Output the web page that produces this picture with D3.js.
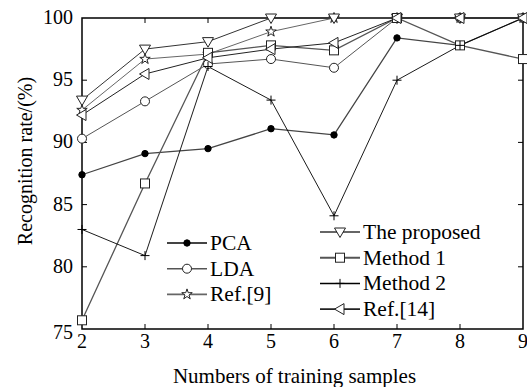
<!DOCTYPE html>
<html lang="en">
<head>
<meta charset="UTF-8">
<title>Recognition rate</title>
<script src="https://d3js.org/d3.v7.min.js"></script>
<style>
  body { margin: 0; background: #fff; }
  svg { display: block; font-family: 'Liberation Serif', 'Times New Roman', serif; }
</style>
</head>
<body>
<svg id="chart" width="527" height="387"></svg>
<script>
// data
const samples = [2, 3, 4, 5, 6, 7, 8, 9];
const pca      = [87.4, 89.1, 89.5, 91.1, 90.6, 98.4, 97.8, 100];
const lda      = [90.3, 93.3, 96.3, 96.7, 96.0, 100, 100, 100];
const ref9     = [92.6, 96.7, 97.1, 98.9, 100, 100, 100, 100];
const proposed = [93.4, 97.5, 98.1, 100, 100, 100, 100, 100];
const method1  = [75.7, 86.7, 97.2, 97.8, 97.4, 100, 97.8, 96.7];
const method2  = [83.0, 80.9, 96.1, 93.4, 84.1, 95.0, 97.8, 100];
const ref14    = [92.2, 95.5, 96.8, 97.5, 98.0, 100, 100, 100];
const yTicks = [75, 80, 85, 90, 95, 100];

const series = [
  { name: "PCA", values: pca, marker: "dot", color: "#444", w: 1.3 },
  { name: "LDA", values: lda, marker: "circle", color: "#555", w: 1 },
  { name: "Ref.[9]", values: ref9, marker: "star", color: "#666", w: 1 },
  { name: "The proposed", values: proposed, marker: "down", color: "#333", w: 1 },
  { name: "Method 1", values: method1, marker: "square", color: "#555", w: 1.3 },
  { name: "Method 2", values: method2, marker: "plus", color: "#000", w: 0.9 },
  { name: "Ref.[14]", values: ref14, marker: "left", color: "#222", w: 1 }
];

const W = 527, H = 387;
const margin = { top: 18, right: 4, bottom: 58, left: 82 };
const svg = d3.select("#chart");

const x = d3.scaleLinear().domain([2, 9]).range([margin.left, W - margin.right]);
const y = d3.scaleLinear().domain([75, 100]).range([H - margin.bottom, margin.top]);

const line = d3.line().x((d, i) => x(samples[i])).y(d => y(d));

// draw a marker at (cx, cy)
function marker(g, type, cx, cy, color) {
  const s = g.append("g").attr("transform", `translate(${cx},${cy})`)
    .attr("stroke", color).attr("stroke-width", 1).attr("fill", "#fff");
  if (type === "dot") s.append("circle").attr("r", 3.2).attr("fill", "#000").attr("stroke", "#000");
  else if (type === "circle") s.append("circle").attr("r", 4.5);
  else if (type === "square") s.append("rect").attr("x", -4.5).attr("y", -4.5).attr("width", 9).attr("height", 9);
  else if (type === "down") s.append("path").attr("d", "M-5.5,-4L5.5,-4L0,5.5Z");
  else if (type === "left") s.append("path").attr("d", "M-5.5,0L4,-5.5L4,5.5Z");
  else if (type === "plus") s.append("path").attr("d", "M-4.5,0H4.5M0,-4.5V4.5").attr("stroke", "#000");
  else if (type === "star") s.append("path").attr("d", d3.symbol(d3.symbolStar, 34)());
}

// frame
svg.append("rect")
  .attr("x", margin.left).attr("y", margin.top)
  .attr("width", W - margin.left - margin.right)
  .attr("height", H - margin.top - margin.bottom)
  .attr("fill", "none").attr("stroke", "#000").attr("stroke-width", 1.5);

// inward ticks on all four sides
const tk = 5;
svg.append("g").selectAll("path").data(samples.slice(1, -1)).join("path")
  .attr("d", d => `M${x(d)},${y(75)}v${-tk}M${x(d)},${y(100)}v${tk}`)
  .attr("stroke", "#000");
svg.append("g").selectAll("path").data(yTicks.slice(1, -1)).join("path")
  .attr("d", d => `M${x(2)},${y(d)}h${tk}M${x(9)},${y(d)}h${-tk}`)
  .attr("stroke", "#000");

// tick labels
svg.append("g").selectAll("text").data(samples).join("text")
  .attr("x", d => x(d)).attr("y", y(75) + 19)
  .attr("text-anchor", "middle").attr("font-size", 20)
  .text(d => d);
svg.append("g").selectAll("text").data(yTicks).join("text")
  .attr("x", margin.left - 9).attr("y", d => y(d) + 6 + (d === 75 ? 4 : 0))
  .attr("text-anchor", "end").attr("font-size", 20)
  .text(d => d);

// axis titles
svg.append("text").attr("x", (x(2) + x(9)) / 2 - 8).attr("y", H - 4)
  .attr("text-anchor", "middle").attr("font-size", 21)
  .text("Numbers of training samples");
svg.append("text").attr("transform", `translate(32,${161}) rotate(-90)`)
  .attr("text-anchor", "middle").attr("font-size", 20)
  .text("Recognition rate/(%)");

// lines and markers
series.forEach(s => {
  svg.append("path").datum(s.values).attr("d", line)
    .attr("fill", "none").attr("stroke", s.color).attr("stroke-width", s.w);
});
series.forEach(s => {
  const g = svg.append("g");
  s.values.forEach((v, i) => marker(g, s.marker, x(samples[i]), y(v), "#222"));
});

// legends
const legends = [
  { items: series.slice(0, 3), x0: 167, y0: 243 },
  { items: series.slice(3), x0: 320, y0: 232 }
];
legends.forEach(L => {
  L.items.forEach((s, i) => {
    const ly = L.y0 + i * 25.7;
    svg.append("path").attr("d", `M${L.x0},${ly}h40`)
      .attr("stroke", s.color).attr("stroke-width", s.w + 0.6);
    const g = svg.append("g");
    marker(g, s.marker, L.x0 + 20, ly, "#222");
    svg.append("text").attr("x", L.x0 + 43).attr("y", ly + 7)
      .attr("font-size", 21.5).text(s.name);
  });
});
</script>
</body>
</html>
